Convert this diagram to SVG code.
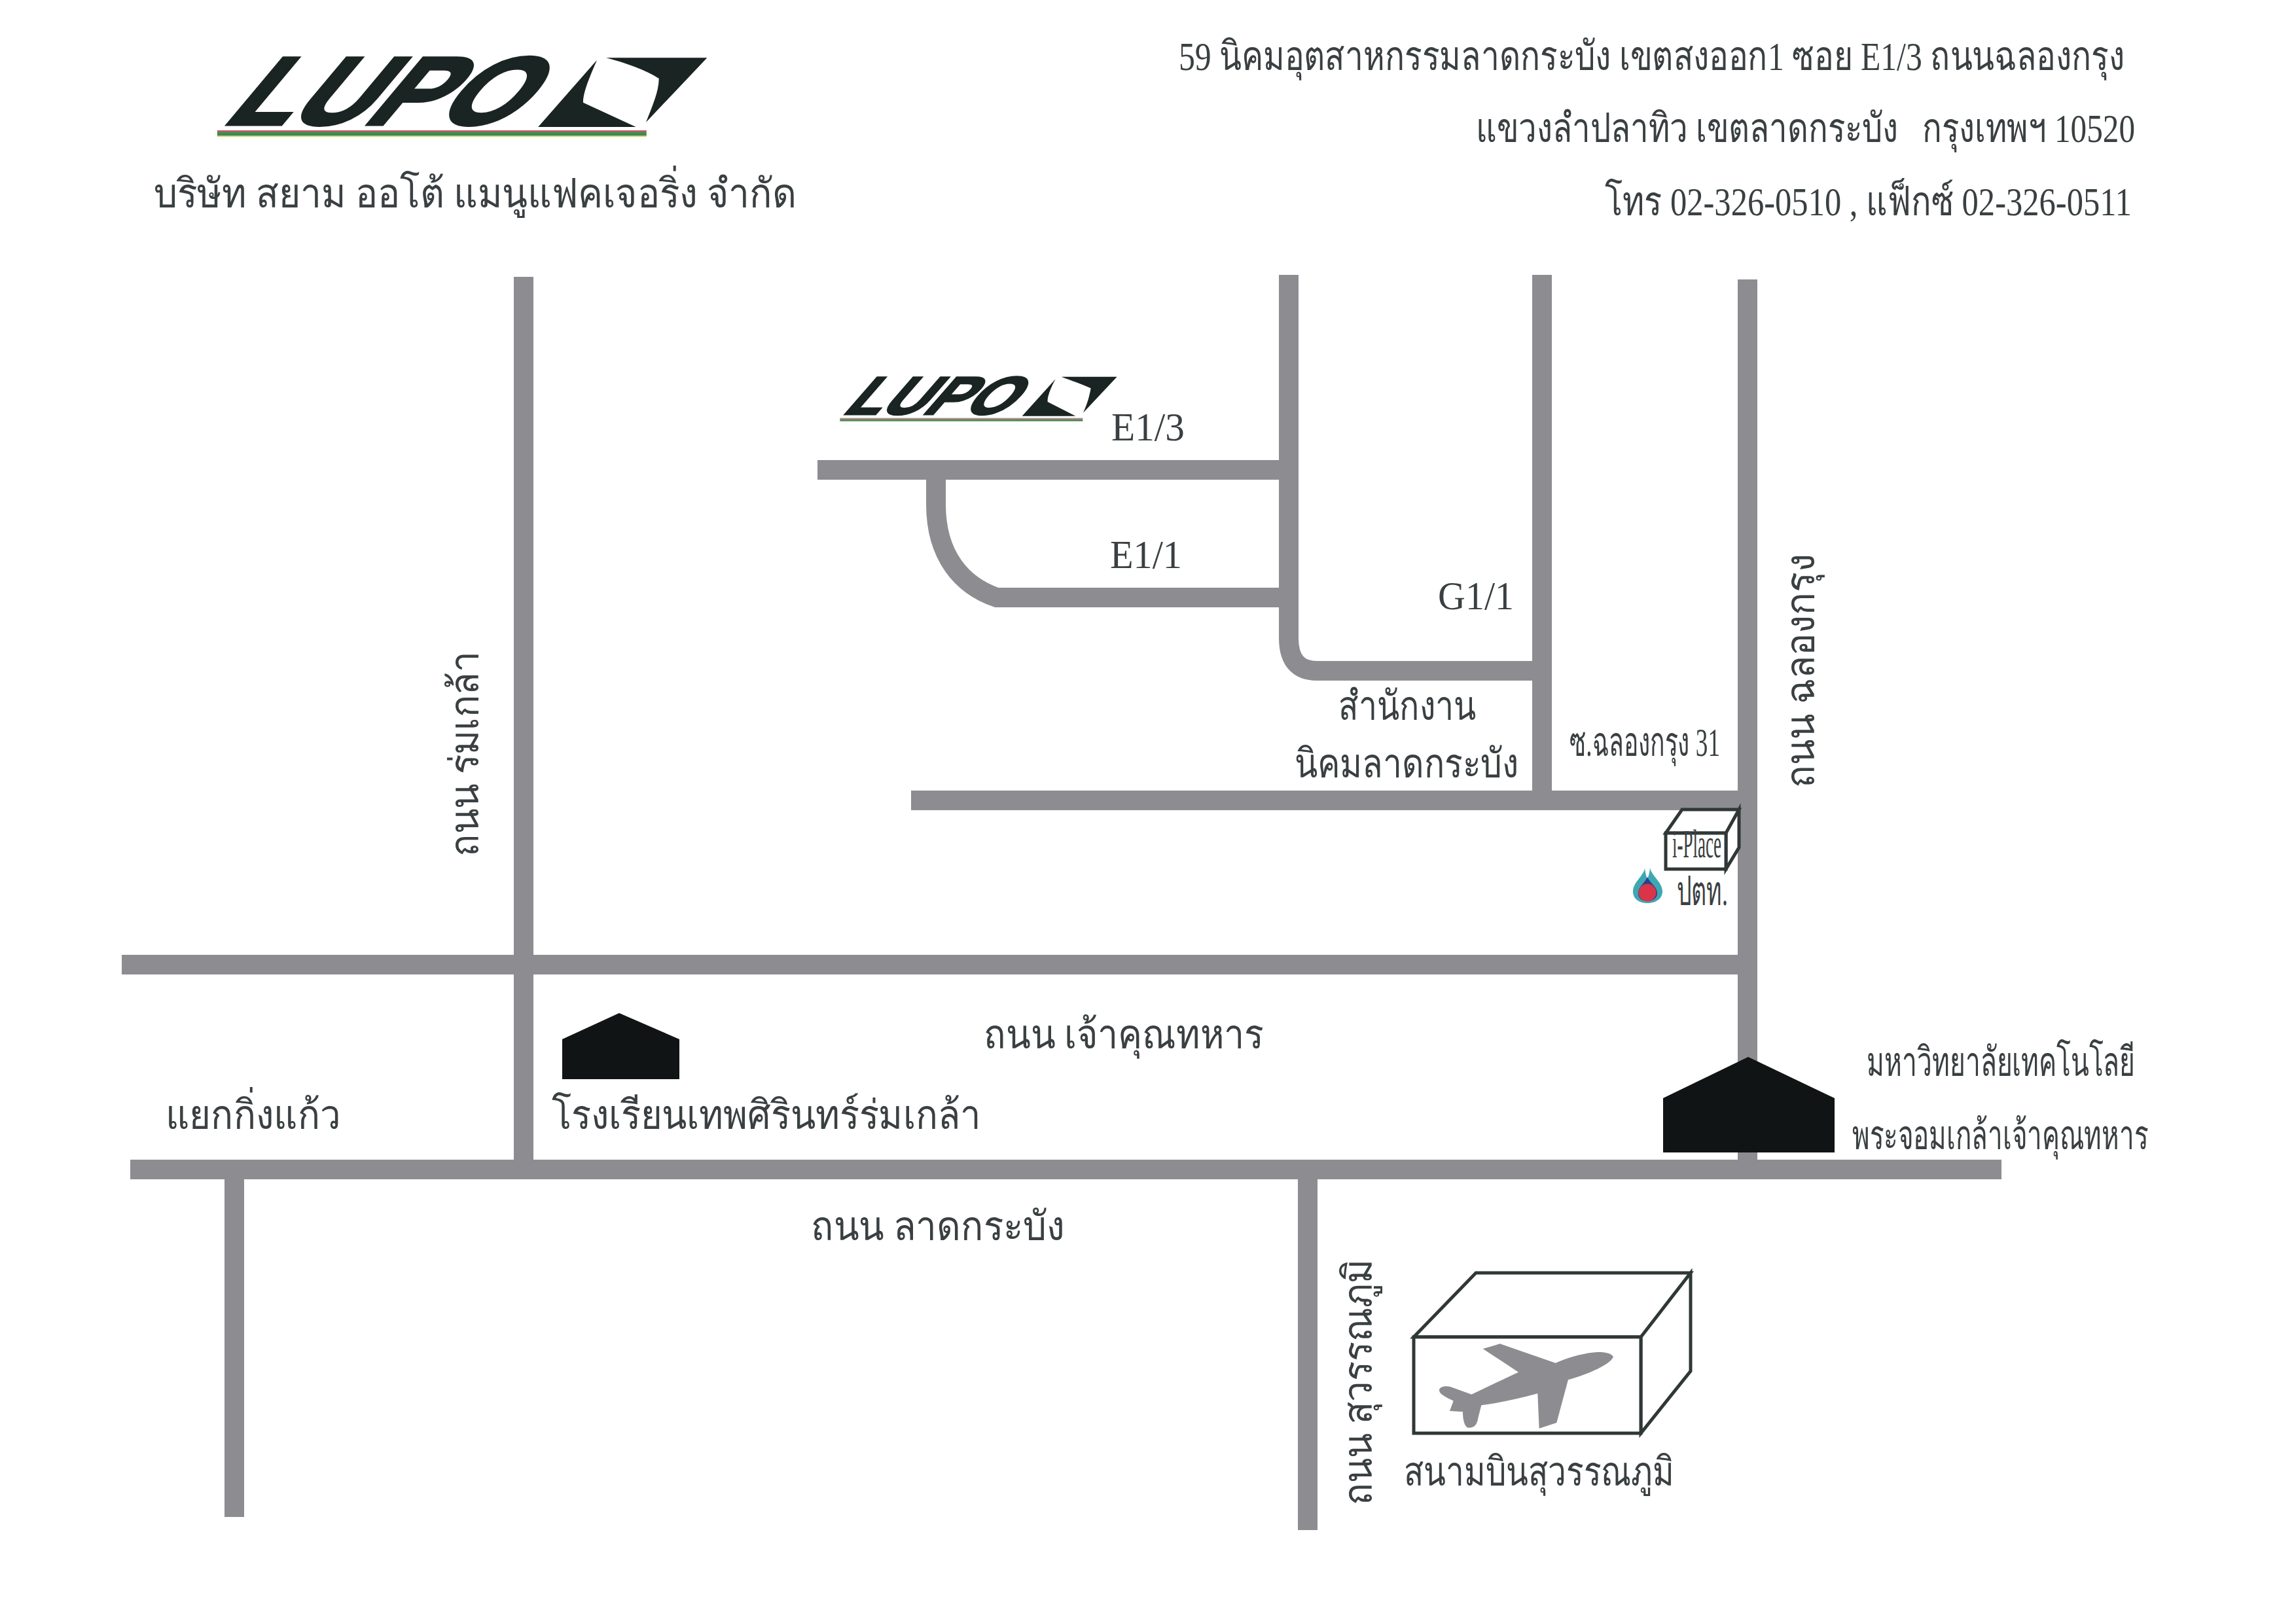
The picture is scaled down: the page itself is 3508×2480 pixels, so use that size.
<svg xmlns="http://www.w3.org/2000/svg" width="3508" height="2480" viewBox="0 0 3508 2480">
<style>
.r{fill:none;stroke:#8d8d91;stroke-width:30}
.t{font-family:"Liberation Serif","Noto Sans CJK SC",serif;font-size:62px;fill:#3a4042}
.l{font-family:"Liberation Sans",sans-serif;font-weight:700;fill:#1a2422;stroke:#1a2422}
.k{fill:#1a2422}
.b{fill:#fff;stroke:#2f3836;stroke-width:5;stroke-linejoin:miter}
.h{fill:#111414}
</style>
<rect width="3508" height="2480" fill="#fff"/>
<g id="roads">
<path class="r" d="M800 423V1778"/>
<path class="r" d="M186 1474H2670"/>
<path class="r" d="M199 1787H3058"/>
<path class="r" d="M358 1800V2318"/>
<path class="r" d="M1998 1800V2338"/>
<path class="r" d="M1969 420V975Q1969 1025 2012 1025H2356"/>
<path class="r" d="M2356 420V1223"/>
<path class="r" d="M2670 427V1778"/>
<path class="r" d="M1249 718H1969"/>
<path class="r" d="M1430 733V770C1430 850 1470 895 1523 913H1969"/>
<path class="r" d="M1392 1223H2670"/>
</g>
<g id="logo-main">
<text class="l" transform="translate(337 190) skewX(-40)" font-size="147" stroke-width="5" textLength="446" lengthAdjust="spacingAndGlyphs">LUPO</text>
<g transform="translate(200 40) scale(.7015 .3333)">
<path class="k" d="M1035 145H1255L1122 440C1135 370 1150 300 1150 240C1120 200 1080 170 1035 145Z"/>
<path class="k" d="M1015 155C1000 230 985 300 985 350L1100 462H887Z"/>
<rect x="188" y="478" width="935" height="7" fill="#b8404c"/>
<rect x="188" y="485" width="935" height="18" fill="#3f8a50"/>
<rect x="188" y="503" width="935" height="5" fill="#d6dc7a"/>
</g>
</g>
<g id="company"><text class="t" x="235" y="317" textLength="982" lengthAdjust="spacingAndGlyphs">บริษัท สยาม ออโต้ แมนูแฟคเจอริ่ง จำกัด</text></g>
<g id="address">
<text class="t" x="1801" y="107" textLength="1445" lengthAdjust="spacingAndGlyphs">59 นิคมอุตสาหกรรมลาดกระบัง เขตสงออก1 ซอย E1/3 ถนนฉลองกรุง</text>
<text class="t" x="2255" y="217" textLength="1007" lengthAdjust="spacingAndGlyphs">แขวงลำปลาทิว เขตลาดกระบัง &#160; กรุงเทพฯ 10520</text>
<text class="t" x="2452" y="329" textLength="805" lengthAdjust="spacingAndGlyphs">โทร 02-326-0510 , แฟ็กซ์ 02-326-0511</text>
</g>
<g id="logo-small">
<text class="l" transform="translate(1285 633) skewX(-41)" font-size="82" stroke-width="3" textLength="253" lengthAdjust="spacingAndGlyphs">LUPO</text>
<g transform="translate(1240 540) scale(.3333)">
<path class="k" d="M1145 107H1400L1245 272C1265 230 1275 190 1280 160C1240 140 1190 125 1145 107Z"/>
<path class="k" d="M1118 118C1095 160 1080 200 1082 222L1210 287H965Z"/>
<rect x="130" y="296" width="1113" height="5" fill="#c9827f"/>
<rect x="130" y="301" width="1113" height="10" fill="#4f8458"/>
</g>
</g>
<g id="labels">
<text class="t" x="1698" y="673" font-size="58" textLength="112" lengthAdjust="spacingAndGlyphs">E1/3</text>
<text class="t" x="1696" y="868" font-size="58" textLength="110" lengthAdjust="spacingAndGlyphs">E1/1</text>
<text class="t" x="2197" y="931" font-size="58" textLength="116" lengthAdjust="spacingAndGlyphs">G1/1</text>
<text class="t" x="2045" y="1100" font-size="58" textLength="210" lengthAdjust="spacingAndGlyphs">สำนักงาน</text>
<text class="t" x="1978" y="1188" font-size="58" textLength="342" lengthAdjust="spacingAndGlyphs">นิคมลาดกระบัง</text>
<text class="t" x="2398" y="1155" font-size="58" textLength="230" lengthAdjust="spacingAndGlyphs">ซ.ฉลองกรุง 31</text>
<text class="t" x="2562" y="1383" font-size="46" textLength="78" lengthAdjust="spacingAndGlyphs">ปตท.</text>
<text class="t" transform="translate(2772 1204) rotate(-90)" textLength="358" lengthAdjust="spacingAndGlyphs">ถนน ฉลองกรุง</text>
<text class="t" transform="translate(731 1309) rotate(-90)" textLength="314" lengthAdjust="spacingAndGlyphs">ถนน ร่มเกล้า</text>
<text class="t" transform="translate(2096 2300) rotate(-90)" textLength="376" lengthAdjust="spacingAndGlyphs">ถนน สุวรรณภูมิ</text>
<text class="t" x="1503" y="1602" textLength="428" lengthAdjust="spacingAndGlyphs">ถนน เจ้าคุณทหาร</text>
<text class="t" x="843" y="1725" textLength="656" lengthAdjust="spacingAndGlyphs">โรงเรียนเทพศิรินทร์ร่มเกล้า</text>
<text class="t" x="253" y="1725" textLength="268" lengthAdjust="spacingAndGlyphs">แยกกิ่งแก้ว</text>
<text class="t" x="1239" y="1895" textLength="387" lengthAdjust="spacingAndGlyphs">ถนน ลาดกระบัง</text>
<text class="t" x="2852" y="1644" textLength="410" lengthAdjust="spacingAndGlyphs">มหาวิทยาลัยเทคโนโลยี</text>
<text class="t" x="2830" y="1756" textLength="452" lengthAdjust="spacingAndGlyphs">พระจอมเกล้าเจ้าคุณทหาร</text>
</g>
<g id="school"><path class="h" d="M859 1649V1588L946 1548L1038 1588V1649Z"/></g>
<g id="university"><path class="h" d="M2541 1761V1678L2671 1615L2803 1678V1761Z"/></g>
<g id="iplace">
<path class="b" d="M2545 1273L2570 1237H2657L2637 1273ZM2637 1273L2657 1237V1295L2637 1328Z"/>
<rect class="b" x="2545" y="1273" width="92" height="55"/>
<text class="t" x="2555" y="1310" font-size="26" textLength="75" lengthAdjust="spacingAndGlyphs">i-Place</text>
</g>
<g id="ptt">
<path fill="#3fa6b4" d="M2513 1326C2512 1338 2495 1348 2495 1362C2495 1374 2505 1380 2517 1380C2529 1380 2540 1374 2540 1362C2540 1348 2523 1338 2521 1326C2520 1338 2517 1342 2517 1344C2517 1342 2514 1338 2513 1326Z"/>
<path fill="#2c3f86" d="M2517 1340C2513 1350 2503 1354 2503 1365C2503 1373 2509 1377 2517 1377C2525 1377 2532 1373 2532 1365C2532 1354 2521 1350 2517 1340Z"/>
<circle cx="2517" cy="1364" r="13.500" fill="#d9344a"/>
</g>
<g id="airport">
<path class="b" d="M2160 2043L2255 1945H2583L2507 2043ZM2507 2043L2583 1945V2095L2507 2190Z"/>
<rect class="b" x="2160" y="2043" width="347" height="147"/>
<path transform="translate(2100 1900) scale(.3333)" fill="#8d8d91" d="M1095 520C1085 500 1040 495 1000 500C950 505 880 525 830 548L575 460L497 483L660 590L445 692L350 658C320 650 295 660 297 675C300 695 340 710 362 722L345 768L405 772C405 800 410 840 430 845C460 845 470 830 475 800L490 742C580 730 670 710 748 688L755 848L835 822L888 625C950 610 1080 560 1095 520Z"/>
<text class="t" x="2145" y="2270" textLength="413" lengthAdjust="spacingAndGlyphs">สนามบินสุวรรณภูมิ</text>
</g>
</svg>
